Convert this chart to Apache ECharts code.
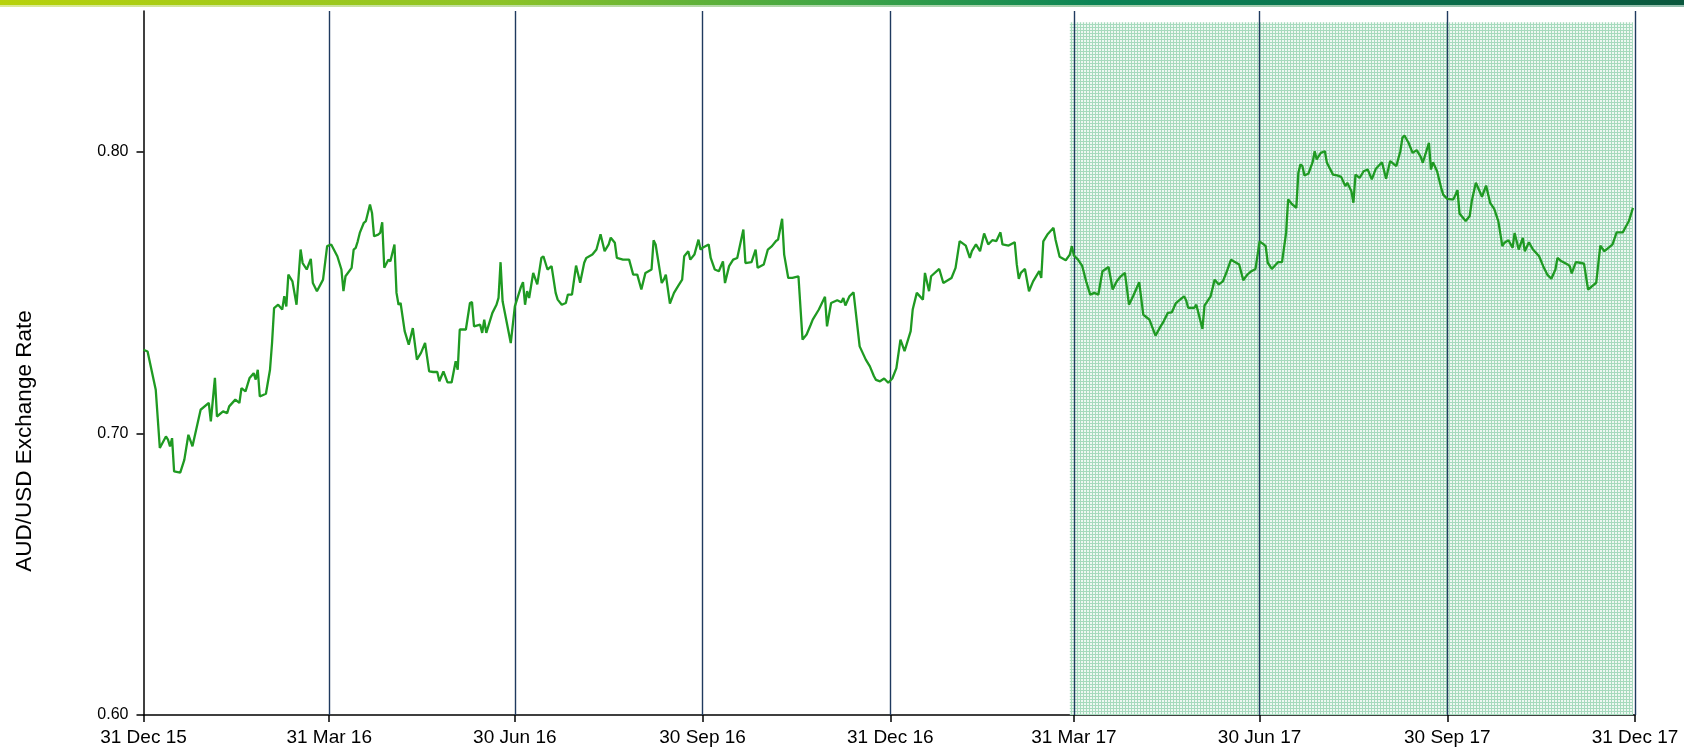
<!DOCTYPE html>
<html>
<head>
<meta charset="utf-8">
<title>AUD/USD Exchange Rate</title>
<script src="https://cdn.jsdelivr.net/npm/echarts@6/dist/echarts.min.js"></script>
<style>
  html, body { margin: 0; padding: 0; background: #fff; }
  #chart { width: 1684px; height: 748px; }
</style>
</head>
<body>
<div id="chart"></div>
<script>
// calendar days after 31 Dec 2015
var days = [
  0, 2, 6, 8, 11, 12, 13, 14, 15, 18, 20, 22, 24, 28, 32, 33, 35, 36, 39, 41,
  42, 45, 47, 48, 50, 52, 54, 55, 56, 57, 60, 62, 63, 64, 66, 68, 69, 70, 71, 73,
  75, 77, 78, 80, 82, 83, 85, 88, 90, 92, 95, 97, 98, 99, 102, 103, 104, 105, 106, 108,
  109, 111, 112, 113, 115, 116, 117, 118, 120, 121, 123, 124, 125, 126, 128, 130, 132, 134, 136, 138,
  140, 142, 144, 145, 147, 149, 151, 153, 154, 155, 158, 160, 161, 162, 165, 166, 167, 168, 171, 173,
  174, 175, 176, 180, 182, 185, 186, 187, 188, 189, 191, 193, 195, 196, 198, 200, 202, 203, 205, 207,
  208, 210, 212, 214, 216, 217, 220, 222, 224, 226, 228, 229, 231, 232, 235, 238, 240, 242, 244, 246,
  249, 250, 251, 254, 255, 256, 258, 260, 262, 264, 265, 267, 268, 270, 272, 273, 274, 277, 278, 280,
  282, 284, 285, 287, 289, 291, 294, 295, 298, 300, 301, 304, 306, 308, 310, 311, 313, 314, 316, 318,
  321, 323, 325, 327, 328, 331, 334, 335, 337, 340, 342, 343, 344, 346, 348, 351, 354, 356, 358, 359,
  361, 363, 365, 367, 369, 371, 373, 376, 377, 379, 382, 383, 385, 386, 390, 392, 396, 398, 400, 403,
  405, 406, 408, 410, 412, 414, 416, 418, 420, 421, 424, 427, 428, 429, 430, 432, 434, 436, 439, 440,
  441, 443, 446, 447, 449, 452, 454, 455, 456, 458, 460, 462, 464, 466, 468, 470, 473, 475, 477, 479,
  481, 483, 485, 488, 490, 491, 493, 496, 498, 500, 502, 504, 506, 508, 510, 511, 512, 515, 516, 519,
  520, 523, 525, 527, 529, 531, 533, 537, 539, 541, 543, 545, 547, 549, 550, 551, 553, 556, 558, 560,
  561, 563, 565, 566, 567, 568, 569, 571, 573, 574, 575, 577, 579, 580, 583, 585, 587, 589, 590, 592,
  593, 594, 596, 598, 600, 602, 604, 607, 609, 611, 614, 616, 617, 618, 620, 622, 624, 626, 627, 630,
  631, 632, 634, 636, 637, 639, 641, 642, 644, 645, 648, 650, 651, 653, 655, 656, 658, 660, 662, 664,
  666, 667, 669, 671, 672, 674, 676, 677, 679, 681, 684, 686, 688, 690, 692, 693, 695, 698, 699, 700,
  702, 704, 706, 708, 710, 712, 714, 716, 718, 720, 722, 725, 728, 730
];

var rates = [
  0.7297, 0.7291, 0.7155, 0.6948, 0.6989, 0.6978, 0.6954, 0.6983, 0.6865, 0.6861, 0.6906, 0.6995, 0.6954, 0.7084, 0.7108, 0.7043, 0.7197, 0.7060, 0.7078, 0.7072,
  0.7096, 0.7120, 0.7108, 0.7161, 0.7149, 0.7197, 0.7214, 0.7191, 0.7226, 0.7131, 0.7141, 0.7226, 0.7321, 0.7445, 0.7457, 0.7440, 0.7487, 0.7451, 0.7564, 0.7540,
  0.7457, 0.7653, 0.7605, 0.7582, 0.7620, 0.7534, 0.7505, 0.7546, 0.7665, 0.7671, 0.7629, 0.7582, 0.7505, 0.7558, 0.7588, 0.7653, 0.7659, 0.7682, 0.7712, 0.7748,
  0.7754, 0.7813, 0.7783, 0.7700, 0.7706, 0.7712, 0.7750, 0.7588, 0.7617, 0.7611, 0.7671, 0.7499, 0.7457, 0.7463, 0.7363, 0.7315, 0.7374, 0.7262, 0.7286, 0.7321,
  0.7220, 0.7218, 0.7218, 0.7185, 0.7220, 0.7181, 0.7181, 0.7256, 0.7226, 0.7369, 0.7369, 0.7463, 0.7466, 0.7380, 0.7386, 0.7357, 0.7404, 0.7357, 0.7428, 0.7457,
  0.7481, 0.7608, 0.7469, 0.7321, 0.7451, 0.7520, 0.7537, 0.7457, 0.7505, 0.7481, 0.7570, 0.7529, 0.7623, 0.7629, 0.7582, 0.7594, 0.7499, 0.7475, 0.7457, 0.7463,
  0.7493, 0.7493, 0.7596, 0.7535, 0.7606, 0.7623, 0.7635, 0.7653, 0.7707, 0.7647, 0.7671, 0.7695, 0.7677, 0.7623, 0.7617, 0.7617, 0.7564, 0.7564, 0.7511, 0.7570,
  0.7582, 0.7686, 0.7671, 0.7534, 0.7546, 0.7564, 0.7461, 0.7499, 0.7523, 0.7546, 0.7629, 0.7647, 0.7617, 0.7635, 0.7688, 0.7653, 0.7659, 0.7671, 0.7623, 0.7582,
  0.7576, 0.7611, 0.7534, 0.7594, 0.7617, 0.7623, 0.7724, 0.7605, 0.7608, 0.7653, 0.7588, 0.7600, 0.7653, 0.7665, 0.7683, 0.7688, 0.7762, 0.7635, 0.7552, 0.7552,
  0.7558, 0.7333, 0.7351, 0.7386, 0.7404, 0.7440, 0.7485, 0.7380, 0.7463, 0.7473, 0.7466, 0.7481, 0.7454, 0.7487, 0.7501, 0.7309, 0.7262, 0.7238, 0.7203, 0.7190,
  0.7185, 0.7195, 0.7180, 0.7195, 0.7232, 0.7333, 0.7292, 0.7363, 0.7440, 0.7499, 0.7475, 0.7570, 0.7505, 0.7558, 0.7584, 0.7534, 0.7552, 0.7588, 0.7683, 0.7667,
  0.7623, 0.7647, 0.7671, 0.7647, 0.7710, 0.7671, 0.7686, 0.7683, 0.7714, 0.7671, 0.7667, 0.7679, 0.7600, 0.7549, 0.7570, 0.7584, 0.7505, 0.7540, 0.7576, 0.7552,
  0.7682, 0.7706, 0.7730, 0.7688, 0.7627, 0.7615, 0.7635, 0.7665, 0.7632, 0.7617, 0.7596, 0.7540, 0.7493, 0.7499, 0.7493, 0.7576, 0.7591, 0.7511, 0.7540, 0.7558,
  0.7570, 0.7457, 0.7487, 0.7537, 0.7422, 0.7416, 0.7404, 0.7347, 0.7374, 0.7398, 0.7428, 0.7430, 0.7463, 0.7475, 0.7487, 0.7473, 0.7446, 0.7446, 0.7457, 0.7371,
  0.7454, 0.7487, 0.7546, 0.7529, 0.7540, 0.7576, 0.7617, 0.7600, 0.7544, 0.7564, 0.7576, 0.7584, 0.7682, 0.7671, 0.7665, 0.7606, 0.7584, 0.7608, 0.7608, 0.7712,
  0.7831, 0.7813, 0.7801, 0.7925, 0.7955, 0.7949, 0.7916, 0.7923, 0.7963, 0.8002, 0.7973, 0.7996, 0.8002, 0.7961, 0.7919, 0.7916, 0.7911, 0.7878, 0.7890, 0.7860,
  0.7819, 0.7919, 0.7907, 0.7931, 0.7937, 0.7902, 0.7940, 0.7963, 0.7904, 0.7967, 0.7949, 0.8002, 0.8050, 0.8058, 0.8032, 0.7996, 0.8006, 0.7982, 0.7961, 0.8032,
  0.7937, 0.7963, 0.7931, 0.7872, 0.7848, 0.7833, 0.7831, 0.7831, 0.7864, 0.7781, 0.7754, 0.7772, 0.7825, 0.7890, 0.7857, 0.7840, 0.7880, 0.7819, 0.7797, 0.7754,
  0.7665, 0.7677, 0.7686, 0.7659, 0.7712, 0.7653, 0.7694, 0.7647, 0.7679, 0.7653, 0.7629, 0.7594, 0.7564, 0.7549, 0.7582, 0.7623, 0.7611, 0.7600, 0.7594, 0.7568,
  0.7608, 0.7606, 0.7603, 0.7511, 0.7523, 0.7535, 0.7667, 0.7647, 0.7659, 0.7671, 0.7714, 0.7714, 0.7754, 0.7801
];

var quarterEnds = ['2015-12-31', '2016-03-31', '2016-06-30', '2016-09-30', '2016-12-31',
                   '2017-03-31', '2017-06-30', '2017-09-30', '2017-12-31'];
var tickLabels = ['31 Dec 15', '31 Mar 16', '30 Jun 16', '30 Sep 16', '31 Dec 16',
                  '31 Mar 17', '30 Jun 17', '30 Sep 17', '31 Dec 17'];
var rateTicks = [0.60, 0.70, 0.80];
var shadedPeriod = ['2017-03-29', '2017-12-30'];

var DAY = 86400000;
var startTime = Date.parse('2015-12-31');
var quarterTimes = quarterEnds.map(function (d) { return Date.parse(d); });
var seriesData = days.map(function (d, i) {
    return [startTime + d * DAY, rates[i]];
});

// fine green grid fill for the shaded period
var tile = document.createElement('canvas');
tile.width = 3;
tile.height = 3;
var tctx = tile.getContext('2d');
tctx.fillStyle = '#eef8f2';
tctx.fillRect(0, 0, 3, 3);
tctx.fillStyle = '#a6dabd';
tctx.fillRect(0, 0, 3, 1);
tctx.fillRect(0, 0, 1, 3);

var dom = document.getElementById('chart');
var myChart = echarts.init(dom);

var font = 'Arial, "Liberation Sans", sans-serif';

option = {
    animation: false,
    backgroundColor: '#fff',
    grid: {
        left: 143.5,
        right: 49,
        top: 11,
        bottom: 33,
        containLabel: false,
        outerBoundsMode: 'none'
    },
    graphic: [
        {
            type: 'rect',
            shape: { x: 0, y: 0, width: 1684, height: 5 },
            style: {
                fill: new echarts.graphic.LinearGradient(0, 0, 1, 0, [
                    { offset: 0, color: '#b8d20a' },
                    { offset: 0.3, color: '#8cc328' },
                    { offset: 0.5, color: '#3fa546' },
                    { offset: 0.65, color: '#0c8556' },
                    { offset: 0.85, color: '#0a6e4b' },
                    { offset: 1, color: '#0a573d' }
                ])
            },
            silent: true
        },
        {
            type: 'rect',
            shape: { x: 0, y: 5, width: 1684, height: 2 },
            style: {
                fill: new echarts.graphic.LinearGradient(0, 0, 1, 0, [
                    { offset: 0, color: '#dcea96' },
                    { offset: 0.5, color: '#aed6ac' },
                    { offset: 1, color: '#93bfae' }
                ])
            },
            silent: true
        },
        {
            type: 'text',
            x: 25,
            y: 441,
            rotation: Math.PI / 2,
            style: {
                text: 'AUD/USD Exchange Rate',
                font: '22.5px ' + font,
                fill: '#000',
                align: 'center',
                verticalAlign: 'middle'
            },
            silent: true
        }
    ],
    xAxis: {
        type: 'value',
        min: quarterTimes[0],
        max: quarterTimes[quarterTimes.length - 1],
        axisLine: { show: true, lineStyle: { color: '#000', width: 1.5 } },
        axisTick: {
            show: true,
            length: 7,
            customValues: quarterTimes,
            lineStyle: { color: '#000', width: 1.5 }
        },
        axisLabel: {
            customValues: quarterTimes,
            fontSize: 19,
            fontFamily: font,
            color: '#000',
            margin: 13,
            hideOverlap: false,
            showMinLabel: true,
            showMaxLabel: true,
            formatter: function (value) {
                var i = quarterTimes.indexOf(value);
                return i >= 0 ? tickLabels[i] : '';
            }
        },
        splitLine: { show: false }
    },
    yAxis: {
        type: 'value',
        min: 0.6,
        max: 0.85,
        axisLine: { show: true, lineStyle: { color: '#000', width: 1.5 } },
        axisTick: {
            show: true,
            length: 7,
            customValues: rateTicks,
            lineStyle: { color: '#000', width: 1.5 }
        },
        axisLabel: {
            customValues: rateTicks,
            fontSize: 16,
            fontFamily: font,
            color: '#000',
            margin: 15,
            formatter: function (v) { return v.toFixed(2); }
        },
        splitLine: { show: false }
    },
    series: [
        {
            name: 'AUD/USD',
            type: 'line',
            data: seriesData,
            showSymbol: false,
            symbol: 'none',
            lineStyle: { color: '#1f9a22', width: 2.3 },
            z: 5,
            markArea: {
                silent: true,
                itemStyle: { color: { image: tile, repeat: 'repeat' } },
                data: [[
                    { xAxis: Date.parse(shadedPeriod[0]), yAxis: 0.6 },
                    { xAxis: Date.parse(shadedPeriod[1]), yAxis: 0.846 }
                ]]
            },
            markLine: {
                silent: true,
                symbol: ['none', 'none'],
                label: { show: false },
                lineStyle: { color: '#1f3a5f', width: 1.4, type: 'solid' },
                data: quarterTimes.slice(1).map(function (t) { return { xAxis: t }; })
            }
        }
    ]
};

myChart.setOption(option);
</script>
</body>
</html>
